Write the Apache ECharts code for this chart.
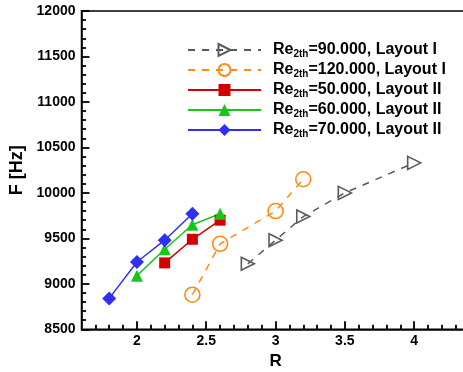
<!DOCTYPE html>
<html>
<head>
<meta charset="utf-8">
<script src="https://cdn.jsdelivr.net/npm/echarts@6/dist/echarts.min.js"></script>
<style>
  html, body { margin: 0; padding: 0; background: #fff; }
  #chart { width: 463px; height: 372px; }
</style>
</head>
<body>
<div id="chart"></div>
<script>
// series data
const names = ['re90', 're120', 're50', 're60', 're70'];
const reValues = ['90.000', '120.000', '50.000', '60.000', '70.000'];
const layouts = ['Layout I', 'Layout I', 'Layout II', 'Layout II', 'Layout II'];

const r90 = [2.8, 3.0, 3.2, 3.5, 4.0];
const f90 = [9220, 9480, 9740, 10000, 10330];
const r120 = [2.4, 2.6, 3.0, 3.2];
const f120 = [8880, 9440, 9800, 10150];
const r50 = [2.2, 2.4, 2.6];
const f50 = [9230, 9490, 9700];
const r60 = [2.0, 2.2, 2.4, 2.6];
const f60 = [9090, 9380, 9650, 9770];
const r70 = [1.8, 2.0, 2.2, 2.4];
const f70 = [8840, 9240, 9480, 9770];

// axis ticks
const xMajor = [2, 2.5, 3, 3.5, 4];
const xMinor = [1.7, 1.8, 1.9, 2.1, 2.2, 2.3, 2.4, 2.6, 2.7, 2.8, 2.9,
                3.1, 3.2, 3.3, 3.4, 3.6, 3.7, 3.8, 3.9, 4.1, 4.2, 4.3];

const font = 'Liberation Sans, Arial, Helvetica, sans-serif';

function pairs(xs, ys) {
    return xs.map(function (x, i) { return [x, ys[i]]; });
}

const chart = echarts.init(document.getElementById('chart'));

function lineSeries(name, xs, ys, color, dashed, symbol, size, hollow) {
    return {
        name: name,
        type: 'line',
        xAxisIndex: 0,
        yAxisIndex: 0,
        data: pairs(xs, ys),
        symbol: symbol,
        symbolSize: size,
        showAllSymbol: true,
        lineStyle: {
            color: color,
            width: 1.5,
            type: dashed ? [7, 7] : 'solid'
        },
        itemStyle: hollow ? {
            color: 'rgba(0,0,0,0)',
            borderColor: color,
            borderWidth: 1.6
        } : {
            color: color,
            borderWidth: 0
        },
        emphasis: { disabled: true }
    };
}

// the frame runs past the right edge of the picture, as in the reference
const gridRect = { left: 81.5, right: -6.6, top: 11, bottom: 42.7, outerBoundsMode: 'none' };

chart.setOption({
    backgroundColor: '#fff',
    animation: false,
    textStyle: { fontFamily: font },
    grid: [
        Object.assign({
            show: true,
            borderColor: '#000',
            borderWidth: 1.5,
            backgroundColor: 'transparent'
        }, gridRect),
        // second grid on the same rect, only for the minor x ticks
        Object.assign({ show: false }, gridRect)
    ],
    legend: {
        orient: 'vertical',
        left: 187,
        top: 41,
        padding: 0,
        itemWidth: 73,
        itemHeight: 15,
        itemGap: 2,
        selectedMode: false,
        data: names,
        formatter: function (n) {
            const i = names.indexOf(n);
            return '{a|Re}{b|2th}{a|=' + reValues[i] + ', ' + layouts[i] + '}';
        },
        textStyle: {
            padding: [0, 0, 0, 7],
            rich: {
                a: { fontSize: 16, fontWeight: 'bold', color: '#000', fontFamily: font, lineHeight: 15 },
                b: { fontSize: 10, fontWeight: 'bold', color: '#000', fontFamily: font, lineHeight: 15, padding: [8, 0, 0, 0] }
            }
        }
    },
    xAxis: [{
        type: 'value',
        gridIndex: 0,
        min: 1.6,
        max: 4.4,
        position: 'bottom',
        name: 'R',
        nameLocation: 'middle',
        nameGap: 18,
        nameTextStyle: { fontSize: 17, fontWeight: 'bold', color: '#000', fontFamily: font },
        axisLine: { show: true, lineStyle: { color: '#000', width: 1.5 } },
        axisTick: { show: true, inside: true, length: 8, customValues: xMajor, lineStyle: { color: '#000', width: 1.8 } },
        axisLabel: {
            customValues: xMajor,
            fontSize: 14, fontWeight: 'bold', color: '#000', fontFamily: font, margin: 5
        },
        splitLine: { show: false }
    }, {
        type: 'value',
        gridIndex: 1,
        min: 1.6,
        max: 4.4,
        position: 'bottom',
        axisLine: { show: false },
        axisTick: { show: true, inside: true, length: 4.5, customValues: xMinor, lineStyle: { color: '#000', width: 1.8 } },
        axisLabel: { show: false },
        splitLine: { show: false }
    }],
    yAxis: [{
        type: 'value',
        gridIndex: 0,
        min: 8500,
        max: 12000,
        interval: 500,
        position: 'left',
        name: 'F [Hz]',
        nameLocation: 'middle',
        nameGap: 55,
        nameTextStyle: { fontSize: 18, fontWeight: 'bold', color: '#000', fontFamily: font },
        axisLine: { show: true, lineStyle: { color: '#000', width: 1.5 } },
        axisTick: { show: true, inside: true, length: 8, lineStyle: { color: '#000', width: 1.8 } },
        minorTick: { show: true, splitNumber: 5, length: 4.5, lineStyle: { color: '#000', width: 1.8 } },
        axisLabel: {
            fontSize: 14, fontWeight: 'bold', color: '#000', fontFamily: font, margin: 6,
            formatter: function (v) { return String(v); }
        },
        splitLine: { show: false }
    }, {
        type: 'value',
        gridIndex: 1,
        min: 8500,
        max: 12000,
        position: 'left',
        axisLine: { show: false },
        axisTick: { show: false },
        axisLabel: { show: false },
        splitLine: { show: false }
    }],
    series: [
        lineSeries('re90', r90, f90, '#5a5a5a', true, 'path://M0,0 L10,5 L0,10 Z', 13, true),
        lineSeries('re120', r120, f120, '#ff8a14', true, 'circle', 15, true),
        lineSeries('re50', r50, f50, '#d40000', false, 'rect', 11, false),
        lineSeries('re60', r60, f60, '#16c816', false, 'triangle', 12, false),
        lineSeries('re70', r70, f70, '#3030f5', false, 'diamond', 14, false)
    ]
});
</script>
</body>
</html>
